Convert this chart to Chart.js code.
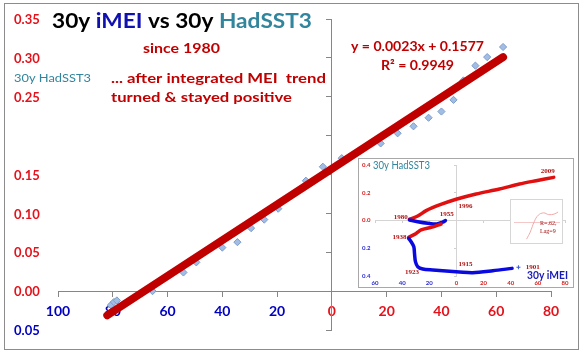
<!DOCTYPE html>
<html lang="en">
<head>
<meta charset="UTF-8">
<title>30y iMEI vs 30y HadSST3</title>
<script src="https://cdn.jsdelivr.net/npm/chart.js"></script>
<style>
  body { margin: 0; width: 582px; height: 353px; background: #fff; position: relative; overflow: hidden; }
  #main { position: absolute; left: 0; top: 0; }
  .frame { position: absolute; left: 4px; top: 3px; width: 573px; height: 345px; border: 1px solid #8c8c8c; }
  .inset { position: absolute; left: 358px; top: 158px; width: 216px; height: 130px; background: #fff;
           border: 1px solid #a8a8a8; box-sizing: border-box; }
  .inset canvas { position: absolute; left: 0; top: 0; }
  .mini { position: absolute; left: 151px; top: 40px; width: 53px; height: 45px; background: #fff;
          border: 1px solid #d6d6d6; box-sizing: border-box; }
</style>
</head>
<body>
<canvas id="main" width="582" height="353"></canvas>
<div class="frame"></div>
<div class="inset">
  <canvas id="inset" width="214" height="128"></canvas>
  <div class="mini"><canvas id="mini" width="51" height="43"></canvas></div>
</div>

<script>
// main chart: 30y iMEI (x) vs 30y HadSST3 (y), since 1980
const imeiSince1980 = [-80.7, -79.6, -78.5, -65.5, -54.2, -49.5, -40.0, -34.5, -29.5, -24.7, -19.6, -9.5,
                       -3.3, 3.6, 17.8, 24.0, 29.8, 35.3, 40.0, 44.4, 48.0, 52.4, 56.7, 62.5];
const sstSince1980 = [-0.018, -0.014, -0.012, 0.000, 0.024, 0.037, 0.056, 0.063, 0.081, 0.092, 0.106, 0.142,
                      0.160, 0.171, 0.190, 0.203, 0.212, 0.223, 0.231, 0.246, 0.271, 0.290, 0.301, 0.314];
// linear trend ends (as drawn)
const trendX = [-82, 62.5];
const trendY = [-0.031, 0.301];

const xTicks = [-100, -80, -60, -40, -20, 0, 20, 40, 60, 80];
const yTicks = [-0.05, 0, 0.05, 0.10, 0.15, 0.20, 0.25, 0.30, 0.35];
const yTickLabels = ['0.05', '0.00', '0.05', '0.10', '0.15', '', '0.25', '0.30', '0.35'];

// inset: 30y iMEI vs 30y HadSST3 path 1901-2009
const blue1X = [41, 26.8, 12.0, 2.2, -7.6, -17.4, -24.8, -28.5, -30.2, -30.9, -31.4, -33.4, -35.2];
const blue1Y = [-0.345, -0.362, -0.376, -0.371, -0.364, -0.357, -0.350, -0.333, -0.297, -0.237, -0.189, -0.153, -0.129];
const red1X = [-35.2, -29.7, -26.0, -18.6, -11.3];
const red1Y = [-0.121, -0.093, -0.068, -0.049, -0.025];
const blue2X = [-8.1, -10.1, -14.5, -21.1, -28.5, -34.6];
const blue2Y = [-0.001, -0.011, -0.025, -0.020, -0.009, 0.004];
const red2X = [-34.6, -28.5, -22.3, -12.5, -0.2, 14.5, 31.7, 46.4, 58.7, 71.7];
const red2Y = [0.009, 0.032, 0.071, 0.112, 0.153, 0.191, 0.227, 0.263, 0.287, 0.311];
const insetXTicks = [-60, -40, -20, 0, 20, 40, 60, 80];
const insetYTicks = [0.4, 0.2, 0, -0.2, -0.4];
const yearLabels = ['2009', '1996', '1980', '1955', '1938', '1923', '1915', '1901'];
const yearX = [67.3, 6.6, -41, -7.1, -42, -32.7, 6.6, 56.2];
const yearY = [0.352, 0.105, 0.027, 0.047, -0.121, -0.369, -0.316, -0.333];

// mini inset: lag correlation
const lagX = [2.8, 3.6, 4.5, 5.4, 6.6, 7.7, 8.9, 9.8];
const lagR = [-0.95, -0.55, 0.05, 0.42, 0.55, 0.45, 0.48, 0.6];

const RED = '#e4121b', BLUE = '#0000c0', DARKRED = '#c00000', TEAL = '#31859c';

function pts(xs, ys) { return xs.map((x, i) => ({ x: x, y: ys[i] })); }

function fitText(ctx, parts, x, y, font, width) {
  ctx.font = font;
  let total = 0;
  parts.forEach(p => total += ctx.measureText(p[0]).width);
  const k = width ? width / total : 1;
  ctx.save();
  ctx.translate(x, y);
  ctx.scale(k, 1);
  ctx.textBaseline = 'alphabetic';
  ctx.textAlign = 'left';
  let cx = 0;
  parts.forEach(p => { ctx.fillStyle = p[1]; ctx.fillText(p[0], cx, 0); cx += ctx.measureText(p[0]).width; });
  ctx.restore();
}

const mainText = {
  id: 'mainText',
  afterDraw(chart) {
    const ctx = chart.ctx, ys = chart.scales.y;
    ctx.save();
    ctx.font = 'bold 13px Lato';
    ctx.textBaseline = 'middle';
    ctx.textAlign = 'left';
    yTicks.forEach((v, i) => {
      ctx.fillStyle = v < 0 ? BLUE : RED;
      ctx.fillText(yTickLabels[i], 14, ys.getPixelForValue(v) + 1);
    });
    ctx.restore();
    fitText(ctx, [['30y ', '#000'], ['iMEI', '#1010b0'], [' vs 30y ', '#000'], ['HadSST3', TEAL]], 52, 28, 'bold 20px Lato', 260);
    fitText(ctx, [['since 1980', DARKRED]], 143, 53, 'bold 14px Lato', 77);
    fitText(ctx, [['... after integrated MEI  trend', DARKRED]], 111, 83, 'bold 14px Lato', 215);
    fitText(ctx, [['turned & stayed positive', DARKRED]], 111, 102, 'bold 14px Lato', 181);
    fitText(ctx, [['30y HadSST3', TEAL]], 14, 82, '12px Lato', 77);
    fitText(ctx, [['y = 0.0023x + 0.1577', DARKRED]], 351, 51, 'bold 13px Lato', 133);
    fitText(ctx, [['R² = 0.9949', DARKRED]], 381, 70, 'bold 13px Lato', 73);
  }
};

new Chart(document.getElementById('main'), {
  type: 'scatter',
  data: {
    datasets: [
      {
        type: 'line',
        data: pts(trendX, trendY),
        borderColor: DARKRED,
        borderWidth: 8,
        borderCapStyle: 'round',
        pointRadius: 0,
        order: 0
      },
      {
        data: pts(imeiSince1980, sstSince1980),
        pointStyle: 'rectRot',
        pointRadius: 3.6,
        backgroundColor: '#a2bde3',
        borderColor: '#7c9ccc',
        borderWidth: 1,
        order: 1
      }
    ]
  },
  options: {
    responsive: false,
    animation: false,
    layout: { padding: { left: 58, right: 31, top: 19, bottom: 23 } },
    plugins: { legend: { display: false }, tooltip: { enabled: false } },
    scales: {
      x: {
        type: 'linear', min: -100, max: 80, position: { y: 0 },
        afterBuildTicks: s => { s.ticks = xTicks.map(v => ({ value: v })); },
        grid: { drawOnChartArea: false, tickLength: 5, color: '#868686' },
        border: { color: '#868686' },
        ticks: {
          padding: 7,
          font: { family: 'Lato', size: 14, weight: 'bold' },
          color: c => (c.tick && c.tick.value < 0) ? BLUE : RED,
          callback: v => Math.abs(v)
        }
      },
      y: {
        type: 'linear', min: -0.05, max: 0.35, position: { x: 0 },
        afterBuildTicks: s => { s.ticks = yTicks.map(v => ({ value: v })); },
        grid: { drawOnChartArea: false, tickLength: 5, color: '#868686' },
        border: { color: '#868686' },
        ticks: { display: false }
      }
    }
  },
  plugins: [mainText]
});

// inset chart
const insetText = {
  id: 'insetText',
  afterDraw(chart) {
    const ctx = chart.ctx, xs = chart.scales.x, ys = chart.scales.y;
    ctx.save();
    ctx.font = 'bold 6px Lato';
    ctx.textAlign = 'center';
    ctx.textBaseline = 'middle';
    insetXTicks.forEach(v => {
      ctx.fillStyle = v < 0 ? '#2a2ad0' : '#d42020';
      ctx.fillText(String(Math.abs(v)), xs.getPixelForValue(v), 124);
    });
    ctx.textAlign = 'left';
    insetYTicks.forEach(v => {
      ctx.fillStyle = v < 0 ? '#2a2ad0' : '#d42020';
      ctx.fillText(Math.abs(v).toFixed(1), 3, ys.getPixelForValue(v));
    });
    ctx.font = 'bold 7px "Liberation Serif"';
    ctx.textAlign = 'center';
    ctx.fillStyle = '#b01010';
    yearLabels.forEach((t, i) => ctx.fillText(t, xs.getPixelForValue(yearX[i]), ys.getPixelForValue(yearY[i])));
    ctx.restore();
    fitText(ctx, [['30y HadSST3', TEAL]], 14, 10, '11px Lato', 57);
    fitText(ctx, [['30y iMEI', '#1a1ab8']], 168, 120, 'bold 11px Lato', 41);
  }
};

const lineStyle = { showLine: true, pointRadius: 0, borderWidth: 3.5, borderCapStyle: 'round', borderJoinStyle: 'round', tension: 0.3 };

new Chart(document.getElementById('inset'), {
  type: 'scatter',
  data: {
    datasets: [
      Object.assign({ data: pts(blue1X, blue1Y), borderColor: '#0a0ae0' }, lineStyle),
      Object.assign({ data: pts(red1X, red1Y), borderColor: '#e01010' }, lineStyle),
      Object.assign({ data: pts(blue2X, blue2Y), borderColor: '#0a0ae0' }, lineStyle),
      Object.assign({ data: pts(red2X, red2Y), borderColor: '#e01010' }, lineStyle),
      { data: [{ x: 45.7, y: -0.337 }], pointStyle: 'cross', pointRadius: 2, borderColor: '#3a5ad0', borderWidth: 1 }
    ]
  },
  options: {
    responsive: false,
    animation: false,
    layout: { padding: { left: 16, right: 8, top: 6, bottom: 11 } },
    plugins: { legend: { display: false }, tooltip: { enabled: false } },
    scales: {
      x: {
        type: 'linear', min: -60, max: 80, position: { y: 0 },
        afterBuildTicks: s => { s.ticks = insetXTicks.map(v => ({ value: v })); },
        grid: { drawOnChartArea: false, tickLength: 2, color: '#cfcfcf' },
        border: { color: '#d4d4d4' },
        ticks: { display: false }
      },
      y: {
        type: 'linear', min: -0.4, max: 0.4, position: { x: 0 },
        afterBuildTicks: s => { s.ticks = insetYTicks.map(v => ({ value: v })); },
        grid: { drawOnChartArea: false, tickLength: 2, color: '#cfcfcf' },
        border: { color: '#d4d4d4' },
        ticks: { display: false }
      }
    }
  },
  plugins: [insetText]
});

// mini chart inside inset
const miniText = {
  id: 'miniText',
  afterDraw(chart) {
    const ctx = chart.ctx;
    ctx.save();
    ctx.font = '6px "Liberation Serif"';
    ctx.fillStyle = '#a01010';
    ctx.textAlign = 'left';
    ctx.fillText('R=.62,', 29, 25);
    ctx.fillText('Lag=9', 29, 33);
    ctx.restore();
  }
};

new Chart(document.getElementById('mini'), {
  type: 'scatter',
  data: {
    datasets: [{
      data: pts(lagX, lagR), showLine: true, pointRadius: 0, borderWidth: 1,
      borderColor: '#f2a8a8', tension: 0.4
    }]
  },
  options: {
    responsive: false,
    animation: false,
    layout: { padding: { left: 3, right: 3, top: 5, bottom: 3 } },
    plugins: { legend: { display: false }, tooltip: { enabled: false } },
    scales: {
      x: {
        type: 'linear', min: 0, max: 10, position: { y: 0 },
        grid: { drawOnChartArea: false, drawTicks: false },
        border: { color: '#f4c8c8' },
        ticks: { display: false }
      },
      y: {
        type: 'linear', min: -1, max: 1, display: false
      }
    }
  },
  plugins: [miniText]
});
</script>
</body>
</html>
